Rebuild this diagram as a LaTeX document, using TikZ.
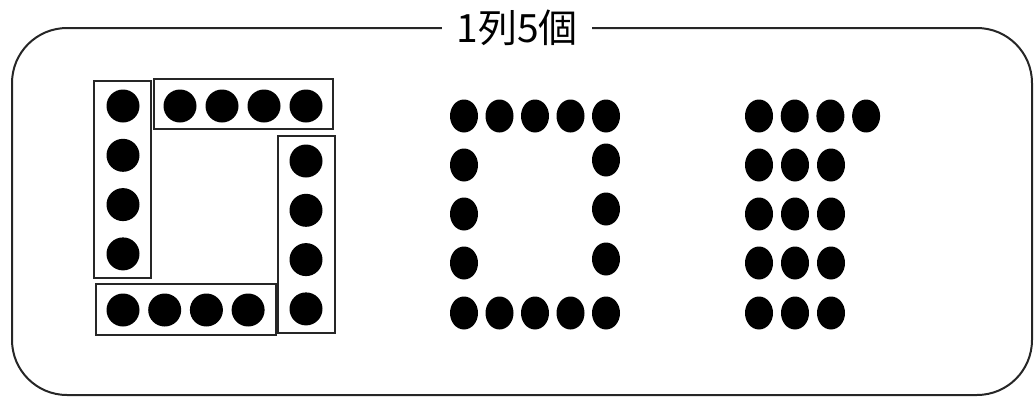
\documentclass[tikz,border=0pt]{standalone}
\usepackage{fontspec}
\newfontfamily\jpfont{Noto Sans CJK JP}
\usepackage{tikz}
\usetikzlibrary{calc}
\tikzset{
  frame/.style={draw=black!85,line width=1pt,rounded corners=27.5pt},
  grp/.style={draw=black!85,line width=1pt},
  ttl/.style={fill=white,inner xsep=7pt,inner ysep=2pt,font=\jpfont\fontsize{19.5}{21}\selectfont}
}

\begin{document}
\begin{tikzpicture}[x=0.5pt,y=-0.5pt]
\useasboundingbox (0,0) rectangle (1034,397);
\draw[frame] (12,28) rectangle (1032,395);
\node[ttl] (title) at (517,28) {1列5個};
% left: four boxes of four
\draw[grp] (94,81) rectangle (151,278);
\draw[grp] (154,79) rectangle (333,129);
\draw[grp] (278,136) rectangle (335,333);
\draw[grp] (96,284) rectangle (276,335);
\foreach \i in {0,...,3}{
  \fill (123,106+49.3*\i) circle (16.5);
  \fill (180+42*\i,106) circle (16.5);
  \fill (306,161+49.3*\i) circle (16.5);
  \fill (123+41.7*\i,310) circle (16.5);
}
% middle: hollow square
\foreach \i in {0,...,4}{
  \fill (464+35.5*\i,116) ellipse [x radius=14,y radius=16.5];
  \fill (464+35.5*\i,313) ellipse [x radius=14,y radius=16.5];
}
\foreach \j in {165,214,263}{\fill (464,\j) ellipse [x radius=14,y radius=16.5];}
\foreach \j in {160,209,259}{\fill (606,\j) ellipse [x radius=14,y radius=16.5];}
% right: 4 + 3x4
\foreach \i in {0,...,3}{\fill (759+35.7*\i,116) ellipse [x radius=14,y radius=16.5];}
\foreach \j in {165,214,263,313}{
  \foreach \i in {0,...,2}{\fill (759+36*\i,\j) ellipse [x radius=14,y radius=16.5];}
}
\end{tikzpicture}
\end{document}
